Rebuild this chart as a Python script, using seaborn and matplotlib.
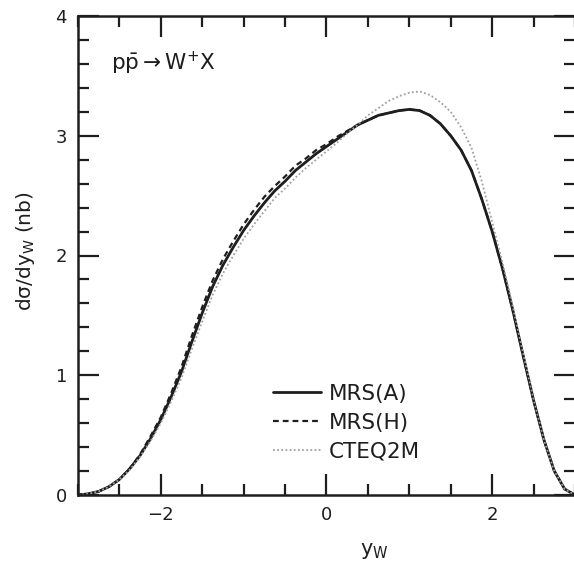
import numpy as np
import pandas as pd
import matplotlib
matplotlib.use("Agg")
import matplotlib.pyplot as plt
from matplotlib.ticker import MultipleLocator
from matplotlib.lines import Line2D
import seaborn as sns

# W+ rapidity distribution in p pbar collisions for three parton-distribution sets
y_w = [-3.0, -2.875, -2.75, -2.625, -2.5, -2.375, -2.25, -2.125, -2.0, -1.875,
       -1.75, -1.625, -1.5, -1.375, -1.25, -1.125, -1.0, -0.875, -0.75, -0.625,
       -0.5, -0.375, -0.25, -0.125, 0.0, 0.125, 0.25, 0.375, 0.5, 0.625, 0.75,
       0.875, 1.0, 1.125, 1.25, 1.375, 1.5, 1.625, 1.75, 1.875, 2.0, 2.125,
       2.25, 2.375, 2.5, 2.625, 2.75, 2.875, 3.0]

mrs_a = [0.0, 0.01, 0.03, 0.07, 0.13, 0.22, 0.33, 0.47, 0.63, 0.82,
         1.03, 1.28, 1.52, 1.74, 1.92, 2.07, 2.21, 2.33, 2.44, 2.54,
         2.62, 2.71, 2.78, 2.85, 2.91, 2.97, 3.03, 3.09, 3.13, 3.17, 3.19,
         3.21, 3.22, 3.21, 3.17, 3.10, 3.00, 2.88, 2.71, 2.47, 2.20, 1.89,
         1.54, 1.16, 0.79, 0.46, 0.20, 0.05, 0.0]

mrs_h = [0.0, 0.01, 0.03, 0.07, 0.13, 0.22, 0.34, 0.49, 0.65, 0.85,
         1.07, 1.33, 1.57, 1.79, 1.97, 2.12, 2.26, 2.38, 2.49, 2.58,
         2.66, 2.75, 2.81, 2.88, 2.93, 2.99, 3.04, 3.09, 3.13, 3.17, 3.19,
         3.21, 3.22, 3.21, 3.17, 3.10, 3.00, 2.88, 2.71, 2.47, 2.20, 1.89,
         1.54, 1.16, 0.79, 0.46, 0.20, 0.05, 0.0]

cteq2m = [0.0, 0.01, 0.03, 0.07, 0.13, 0.21, 0.32, 0.45, 0.60, 0.78,
          0.98, 1.22, 1.45, 1.67, 1.85, 2.00, 2.14, 2.26, 2.37, 2.48,
          2.56, 2.65, 2.73, 2.80, 2.87, 2.94, 3.02, 3.09, 3.17, 3.23, 3.29,
          3.33, 3.36, 3.37, 3.34, 3.28, 3.20, 3.07, 2.90, 2.62, 2.28, 1.94,
          1.57, 1.18, 0.80, 0.46, 0.20, 0.05, 0.0]

labels = ["MRS(A)", "MRS(H)", "CTEQ2M"]

df = pd.concat([
    pd.DataFrame({"y_w": y_w, "dsig": mrs_a, "pdf": labels[0]}),
    pd.DataFrame({"y_w": y_w, "dsig": mrs_h, "pdf": labels[1]}),
    pd.DataFrame({"y_w": y_w, "dsig": cteq2m, "pdf": labels[2]}),
])

sns.set_theme(style="ticks")
plt.rcParams["font.family"] = ["DejaVu Sans"]
plt.rcParams["mathtext.fontset"] = "dejavusans"
plt.rcParams["mathtext.default"] = "regular"

ink = "#1e1e1e"
fig = plt.figure(figsize=(5.74, 5.66), dpi=100)
ax = fig.add_axes([78 / 574, 1 - 495 / 566, 497 / 574, 479 / 566])

styles = {
    "MRS(A)": dict(color=ink, lw=2.0, dashes=None),
    "MRS(H)": dict(color=ink, lw=1.6, dashes=(2.6, 1.8)),
    "CTEQ2M": dict(color="#a0a0a0", lw=1.3, dashes=(1, 1.3)),
}

for name in labels:
    st = styles[name]
    sub = df[df["pdf"] == name]
    line_kw = dict(color=st["color"], lw=st["lw"])
    if st["dashes"] is not None:
        line_kw["dashes"] = st["dashes"]
    sns.lineplot(data=sub, x="y_w", y="dsig", ax=ax, legend=False,
                 estimator=None, sort=False, **line_kw)

ax.set_xlim(-3, 3)
ax.set_ylim(0, 4)
ax.xaxis.set_major_locator(MultipleLocator(2))
ax.xaxis.set_minor_locator(MultipleLocator(0.5))
ax.yaxis.set_major_locator(MultipleLocator(1))
ax.yaxis.set_minor_locator(MultipleLocator(0.2))
ax.tick_params(which="both", direction="in", top=True, right=True,
               color=ink, width=1.6)
ax.tick_params(which="major", length=15, labelsize=13, pad=8,
               labelcolor=ink)
ax.tick_params(which="minor", length=8)
for sp in ax.spines.values():
    sp.set_linewidth(1.8)
    sp.set_color(ink)

ax.set_xlabel(r"$y_W$", fontsize=15, color=ink)
ax.xaxis.set_label_coords(0.596, -0.095)
ax.set_ylabel(r"d$\sigma$/d$y_W$ (nb)", fontsize=14.5, color=ink)
ax.yaxis.set_label_coords(-0.082, 0.51)

ax.text(-2.6, 3.55, r"p$\bar{\rm p}$$\rightarrow$W$^{+}$X", fontsize=15.5,
        color=ink, ha="left", va="baseline")

handles = [Line2D([], [], color=styles[n]["color"], lw=styles[n]["lw"],
                  **({"dashes": styles[n]["dashes"]} if styles[n]["dashes"] else {}))
           for n in labels]
ax.legend(handles, labels, loc="upper left", bbox_to_anchor=(0.393, 0.232),
          frameon=False, fontsize=15.5, handlelength=2.2, handletextpad=0.38,
          labelspacing=0.42, borderpad=0, borderaxespad=0, labelcolor=ink)

fig.savefig("out.png", dpi=100)
